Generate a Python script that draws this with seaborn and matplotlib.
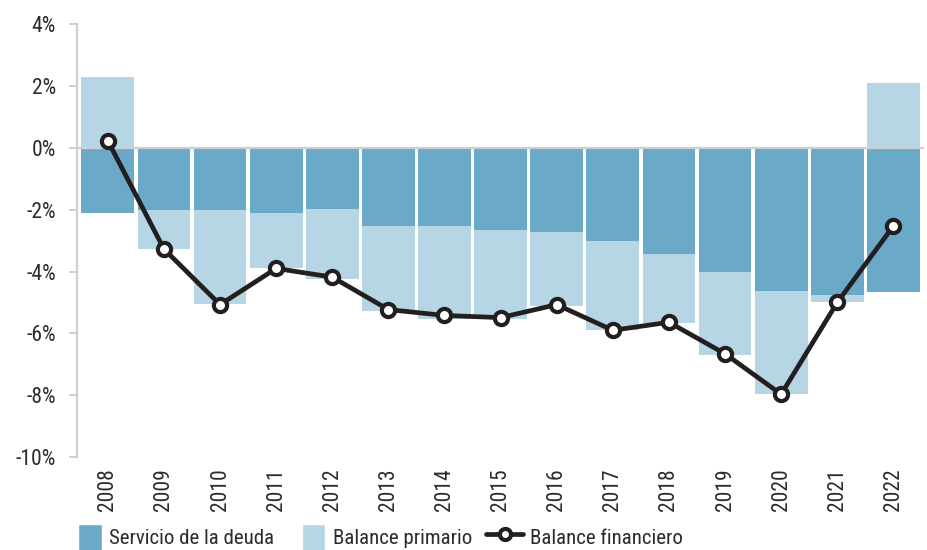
import numpy as np
import pandas as pd
import matplotlib
matplotlib.use("Agg")
import matplotlib.pyplot as plt
import seaborn as sns
from matplotlib.lines import Line2D
from matplotlib.patches import Patch
from matplotlib.legend_handler import HandlerLine2D

# datos (% del PIB)
anios = [str(a) for a in range(2008, 2023)]
servicio_deuda = [-2.10, -2.02, -2.02, -2.10, -1.97, -2.52, -2.52, -2.65,
                  -2.72, -3.00, -3.42, -4.03, -4.63, -4.77, -4.65]
balance_primario = [2.28, -1.25, -3.03, -1.78, -2.27, -2.75, -3.00, -2.88,
                    -2.40, -2.88, -2.25, -2.68, -3.32, -0.22, 2.09]
balance_financiero = [0.23, -3.27, -5.07, -3.90, -4.18, -5.23, -5.42, -5.49,
                      -5.07, -5.90, -5.64, -6.66, -7.97, -5.00, -2.53]
ticks_y = [4, 2, 0, -2, -4, -6, -8, -10]

color_oscuro = "#6aaac8"
color_claro = "#b6d6e6"
color_linea = "#231f20"
color_texto = "#2b2b2b"

sns.set_style("white")
plt.rcParams["font.family"] = ["Roboto Condensed", "Liberation Sans Narrow", "Roboto", "DejaVu Sans"]


class HandlerLineaLarga(HandlerLine2D):
    # la línea de la leyenda es más larga que los cuadrados
    def create_artists(self, legend, orig_handle, xdescent, ydescent, width, height, fontsize, trans):
        extra = width * 0.55
        return super().create_artists(legend, orig_handle, xdescent + extra, ydescent,
                                      width + extra, height, fontsize, trans)


df = pd.DataFrame({"anio": anios, "servicio": servicio_deuda,
                   "primario": balance_primario, "financiero": balance_financiero})
pos = np.arange(len(df))

fig = plt.figure(figsize=(9.27, 5.5), dpi=100)
ax = fig.add_axes([0.083, 0.169, 0.914, 0.787])

sns.barplot(data=df, x="anio", y="servicio", color=color_oscuro, saturation=1,
            width=0.94, linewidth=0, ax=ax, zorder=2)
base = np.where(df["primario"] < 0, df["servicio"], 0)
ax.bar(pos, df["primario"], bottom=base, width=0.94, color=color_claro,
       linewidth=0, zorder=2)

ax.axhline(0, color="#cfcfcf", lw=1.6, zorder=3)

sns.lineplot(x=pos, y=df["financiero"], color=color_linea, lw=3.4,
             marker="o", markersize=9.5, markerfacecolor="white",
             markeredgecolor=color_linea, markeredgewidth=3, ax=ax, zorder=4)

ax.set_xlim(-0.55, len(df) - 0.45)
ax.set_ylim(-10, 4)
ax.set_yticks(ticks_y)
ax.set_yticklabels([f"{t}%" for t in ticks_y], fontsize=15.5, color=color_texto)
ax.tick_params(axis="y", direction="out", length=6, width=1.4, color="#d0d0d0", pad=9, left=True)
ax.tick_params(axis="x", length=0, pad=8, labelsize=15.5, labelcolor=color_texto)
plt.setp(ax.get_xticklabels(), rotation=90)
ax.set_xlabel("")
ax.set_ylabel("")

for s in ["top", "right", "bottom"]:
    ax.spines[s].set_visible(False)
ax.spines["left"].set_color("#d0d0d0")
ax.spines["left"].set_linewidth(1.6)

linea_ley = Line2D([0], [0], color=color_linea, lw=3.4, marker="o", markersize=8,
                   markerfacecolor="white", markeredgewidth=3, label="Balance financiero")
handles = [
    Patch(facecolor=color_oscuro, label="Servicio de la deuda"),
    Patch(facecolor=color_claro, label="Balance primario"),
    linea_ley,
]
fig.legend(handles=handles, loc="lower left", bbox_to_anchor=(0.064, -0.035),
           ncol=3, frameon=False, fontsize=15, handlelength=1.15, handleheight=1.6,
           handletextpad=0.35, columnspacing=1.3, labelcolor=color_texto,
           handler_map={linea_ley: HandlerLineaLarga()})

fig.savefig("out.png", dpi=100)
